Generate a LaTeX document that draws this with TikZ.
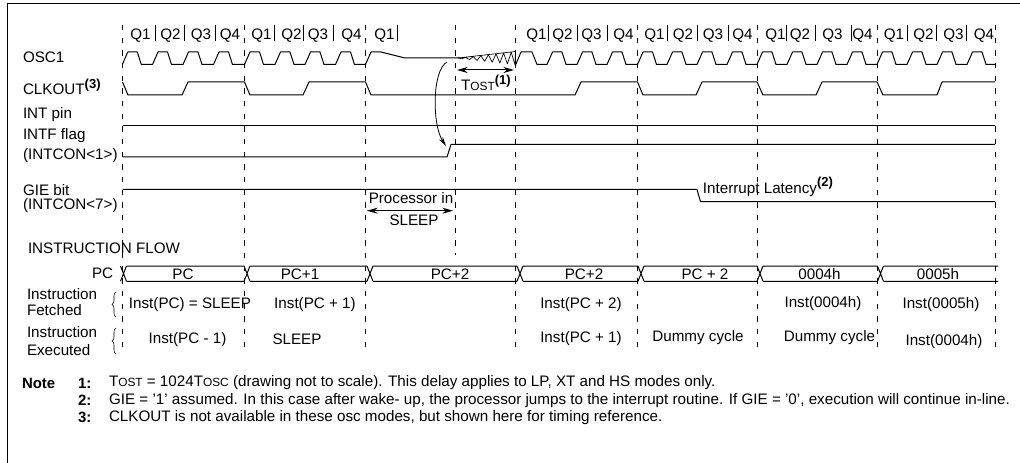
\documentclass[tikz,border=0pt]{standalone}
\usepackage{fontspec}
\setmainfont{Liberation Sans}
\usepackage{tikz}
\usetikzlibrary{arrows.meta,decorations.pathreplacing}
\newcommand{\smalltee}[1]{T{\fontsize{8.9}{10}\selectfont #1}}
\newcommand{\notemark}[1]{\raisebox{0.42em}{\fontsize{9.8}{10}\selectfont\bfseries(#1)}}

\begin{document}
\begin{tikzpicture}[
  x=0.75pt,
  y=-0.75pt,
  every node/.style={inner sep=0pt, outer sep=0pt, text=black},
  label/.style={anchor=west, font=\fontsize{11.4}{13}\selectfont},
  sig/.style={font=\fontsize{11.4}{13}\selectfont},
  notetext/.style={anchor=west, font=\fontsize{11.4}{13}\selectfont},
  notenum/.style={anchor=west, font=\fontsize{11.2}{13}\selectfont\bfseries},
  wave/.style={line width=0.75pt, line join=round},
  guide/.style={line width=0.75pt, dash pattern=on 4pt off 5.5pt},
  tick/.style={line width=0.6pt},
  arrow/.style={<->, line width=0.75pt, >={Stealth[length=8pt,width=4.5pt]}},
  wake/.style={->, line width=0.6pt, >={Stealth[length=7pt,width=3.5pt]}},
  bracepart/.style={line width=0.4pt, decorate, decoration={brace,amplitude=3pt}}
]
  \useasboundingbox (0,0) rectangle (1020,463);

  \draw[line width=0.75pt] (7,463) -- (7,3.5) -- (1020,3.5);

  \foreach \gx/\gend in {122.5/354,244.5/354,365.5/354,455/255,515.5/354,637.5/354,757/354,877/354,995/354}
    \draw[guide] (\gx,25) -- (\gx,\gend);

  \foreach \qx/\qn [count=\i] in {140.5/Q1,170.5/Q2,201/Q3,230/Q4,261.5/Q1,291.5/Q2,318/Q3,351.5/Q4,384.5/Q1,
      536.5/Q1,562.5/Q2,591.5/Q3,623.5/Q4,654.5/Q1,683/Q2,713/Q3,742.5/Q4,775.5/Q1,800/Q2,832.5/Q3,862.5/Q4,894/Q1,923.5/Q2,953.5/Q3,984/Q4}
    \node[sig] (q\i) at (\qx,36) {\qn};
  \foreach \sx in {155,184,215,274,303,333,397,548,577,607,667,697,728,786,815,851,907,936,966}
    \draw[tick] (\sx,25) -- (\sx,41);

  \node[label] (osc) at (23,57) {OSC1};
  \node[label] (clkout) at (23,87) {CLKOUT\notemark{3}};
  \node[label] (intpin) at (23,115) {INT pin};
  \node[label] (intf) at (23,136) {INTF flag};
  \node[label] (intfreg) at (23,156) {(INTCON<1>)};
  \node[label] (gie) at (23,190) {GIE bit};
  \node[label] (giereg) at (23,206) {(INTCON<7>)};
  \node[label] (flow) at (28,248) {INSTRUCTION FLOW};
  \node[label] (pclabel) at (92,273) {PC};
  \node[label] (fetched) at (27,294) {Instruction};
  \node[label] (fetchedb) at (27,310) {Fetched};
  \node[label] (executed) at (27,332) {Instruction};
  \node[label] (executedb) at (27,350) {Executed};

  \draw[wave] (122.3,64.5) \foreach \xs in {122.3,152.5,183,213.5,244.5,275,305,335.5}
      { -- (\xs,64.5) -- ({\xs+5.5},52) -- ({\xs+15},52) -- ({\xs+19},64.5) }
    -- (365.5,64.5) -- (371,52) -- (381,52) -- (405,58) -- (460,58);
  \draw[wave, line width=0.5pt] (458,58) \foreach \i in {1,...,15}
      { -- ({458+\i*3.8},{58.3+ifthenelse(mod(\i,2)==0,-1,1)*\i*0.43}) }
    -- (515.5,51.5) -- (515.5,65) (515.5,51.5) -- (458,58);
  \draw[wave] (515.5,65) -- (521,52) -- (532,52) -- (537,64.5)
    \foreach \xs in {547,577,607,637.5,667,697,727,757,787,817,847,877,907,937,967}
      { -- (\xs,64.5) -- ({\xs+5.5},52) -- ({\xs+15},52) -- ({\xs+19},64.5) }
    -- (995,64.5);

  \draw[wave] (122.5,82) -- (128,95) -- (182,95) -- (188,82) -- (244.5,82) -- (250,95) -- (303,95) -- (309,82)
    -- (365.5,82) -- (371,95) -- (575,95) -- (581,82) -- (637.5,82) -- (643,95) -- (696,95) -- (702,82)
    -- (757,82) -- (763,95) -- (816,95) -- (822,82) -- (877,82) -- (883,95) -- (937,95) -- (942,82) -- (995,82);

  \draw[wave] (122.5,125.5) -- (995,125.5);
  \draw[wave] (122.5,157) -- (447,157) -- (451,144.5) -- (995,144.5);
  \draw[wave] (122.5,189.5) -- (697,189.5) -- (700.5,201.7) -- (995,201.7);

  \coordinate (tostl) at (457,70);
  \coordinate (tostr) at (514,70);
  \draw[arrow] (tostl) -- (tostr);
  \node[sig] (tost) at (486,83) {\smalltee{OST}\notemark{1}};
  \coordinate (sleepl) at (367,210.7);
  \coordinate (sleepr) at (453,210.7);
  \draw[arrow] (sleepl) -- (sleepr);
  \node[sig] (procin) at (411,198) {Processor in};
  \node[sig] (sleep) at (414,220) {SLEEP};
  \coordinate (wakefrom) at (447,62);
  \coordinate (waketo) at (446,146);
  \draw[wake] (wakefrom) .. controls (432,70) and (432,125) .. (waketo);
  \node[sig] (latency) at (768,187) {Interrupt Latency\notemark{2}};

  \foreach \bx/\bnext in {120.5/244,244/367,367/517,517/638,638/757,757/877.5,877.5/998}
    \draw[wave] ({\bx+6},266) -- (\bnext,266) ({\bx+6},281.3) -- (\bnext,281.3)
      (\bx,266) -- ({\bx+6},281.3) (\bx,281.3) -- ({\bx+6},266);

  \node[sig] (pc0) at (183,274) {PC};
  \node[sig] (pc1) at (300,274) {PC+1};
  \node[sig] (pc2) at (450,274) {PC+2};
  \node[sig] (pc3) at (584,274) {PC+2};
  \node[sig] (pc4) at (705,274) {PC + 2};
  \node[sig] (pc5) at (819.5,274) {0004h};
  \node[sig] (pc6) at (938,274) {0005h};

  \draw[bracepart] (116,317) -- (116,292);
  \draw[bracepart] (116,354) -- (116,328);

  \node[sig] (fetcha) at (190,305) {Inst(PC) = SLEEP};
  \node[sig] (fetchb) at (315,305) {Inst(PC + 1)};
  \node[sig] (fetchc) at (581,305) {Inst(PC + 2)};
  \node[sig] (fetchd) at (823,304) {Inst(0004h)};
  \node[sig] (fetche) at (941,305) {Inst(0005h)};
  \node[sig] (execa) at (187.5,340) {Inst(PC - 1)};
  \node[sig] (execb) at (297,339) {SLEEP};
  \node[sig] (execc) at (581,339) {Inst(PC + 1)};
  \node[sig] (execd) at (698,338) {Dummy cycle};
  \node[sig] (exece) at (829.5,338) {Dummy cycle};
  \node[sig] (execf) at (944,342) {Inst(0004h)};

  \node[notenum] (note) at (22,383) {Note};
  \node[notenum] (num1) at (78,383) {1:};
  \node[notenum] (num2) at (78,400.5) {2:};
  \node[notenum] (num3) at (78,417.5) {3:};
  \node[notetext] (text1) at (109,383) {\smalltee{OST} = 1024\smalltee{OSC} (drawing not to scale). This delay applies to LP, XT and HS modes only.};
  \node[notetext] (text2) at (109,400.5) {GIE = '1' assumed. In this case after wake- up, the processor jumps to the interrupt routine. If GIE = '0', execution will continue in-line.};
  \node[notetext] (text3) at (109,417.5) {CLKOUT is not available in these osc modes, but shown here for timing reference.};
\end{tikzpicture}
\end{document}
